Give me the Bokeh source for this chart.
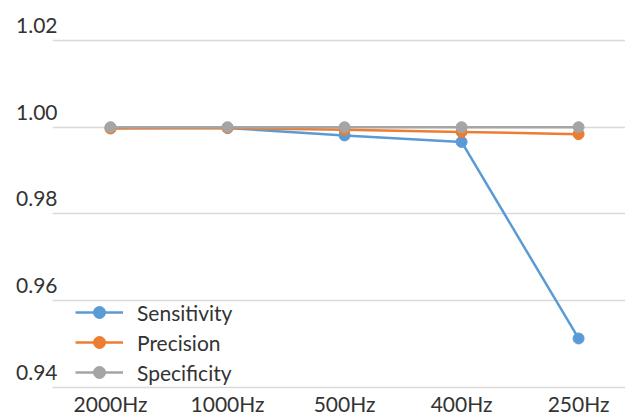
from bokeh.plotting import figure
from bokeh.models import (Range1d, LinearAxis, FixedTicker, PrintfTickFormatter,
                          Grid, Legend, LegendItem, ColumnDataSource)
from bokeh.embed import file_html
from bokeh.resources import INLINE

categories = ["2000Hz", "1000Hz", "500Hz", "400Hz", "250Hz"]
sensitivity = [0.9998, 0.9998, 0.9981, 0.9966, 0.9513]
precision = [0.9997, 0.9998, 0.9994, 0.9989, 0.9984]
specificity = [1.0, 1.0, 1.0, 1.0, 1.0]
y_ticks = [0.94, 0.96, 0.98, 1.00, 1.02]

FONT = "Lato"
TEXT = "#333333"
GRID = "#d9d9d9"
FS = "21px"

xs = list(range(len(categories)))
y0, y1 = 0.94, 1.0292
shift = 0.00346

p = figure(frame_width=573, frame_height=387, output_backend="svg",
           toolbar_location=None, x_range=Range1d(-0.496, 4.401),
           y_range=Range1d(y0, y1), y_axis_location=None,
           min_border_left=52, min_border_right=0, min_border_top=0,
           min_border_bottom=0, outline_line_color=None)

p.xgrid.visible = False
p.ygrid.visible = False
p.add_layout(Grid(dimension=1, ticker=FixedTicker(ticks=y_ticks),
                  grid_line_color=GRID, grid_line_width=1.5))

# x axis
xa = p.xaxis[0]
xa.ticker = FixedTicker(ticks=xs)
xa.major_label_overrides = {i: c for i, c in enumerate(categories)}
xa.axis_line_color = GRID
xa.axis_line_width = 1.5
xa.major_tick_line_color = None
xa.minor_tick_line_color = None
xa.major_tick_out = 0
xa.major_tick_in = 0
xa.minor_tick_out = 0
xa.major_label_text_font = FONT
xa.major_label_text_font_size = FS
xa.major_label_text_color = TEXT
xa.major_label_standoff = 3

# y labels on shifted range (labels sit above gridlines like the source)
p.extra_y_ranges = {"lab": Range1d(y0 - shift, y1 - shift)}
ya = LinearAxis(y_range_name="lab", ticker=FixedTicker(ticks=y_ticks),
                formatter=PrintfTickFormatter(format="%.2f"))
ya.axis_line_color = None
ya.major_tick_line_color = None
ya.minor_tick_line_color = None
ya.major_tick_out = 0
ya.major_tick_in = 0
ya.minor_tick_out = 0
ya.major_label_standoff = -5
ya.major_label_text_font = FONT
ya.major_label_text_font_size = FS
ya.major_label_text_color = TEXT
p.add_layout(ya, "left")

series = [("Sensitivity", sensitivity, "#5b9bd5"),
          ("Precision", precision, "#ed7d31"),
          ("Specificity", specificity, "#a5a5a5")]
items = []
for name, vals, col in series:
    src = ColumnDataSource(dict(x=xs, y=vals))
    l = p.line("x", "y", source=src, line_color=col, line_width=2.5)
    c = p.scatter("x", "y", source=src, size=11, fill_color=col, line_color=col)
    items.append(LegendItem(label=name, renderers=[l, c]))

legend = Legend(items=items, location=(23, 0), padding=0, margin=0,
                border_line_alpha=0, background_fill_alpha=0,
                glyph_width=48, glyph_height=30, label_height=30,
                label_standoff=14, spacing=0,
                label_text_font=FONT, label_text_font_size=FS,
                label_text_color=TEXT)
p.add_layout(legend)

open("out.html", "w").write(file_html(p, INLINE))
